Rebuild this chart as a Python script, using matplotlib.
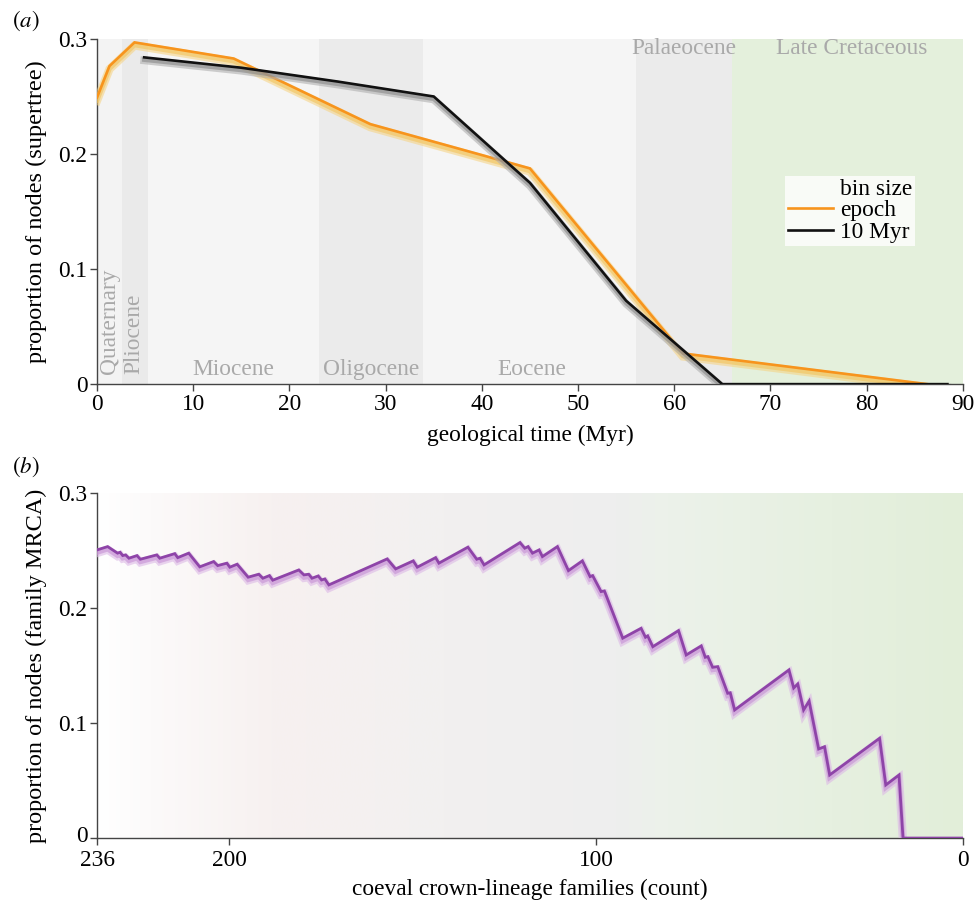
import matplotlib
matplotlib.use("Agg")
import matplotlib.pyplot as plt
import matplotlib.patheffects as pe
import matplotlib.transforms as mtransforms
from matplotlib.colors import LinearSegmentedColormap
from matplotlib.lines import Line2D
from matplotlib.ticker import FuncFormatter
import numpy as np

plt.rcParams['font.family'] = ['Liberation Serif', 'DejaVu Serif']
plt.rcParams['mathtext.fontset'] = 'stix'

# ---------------- data: panel (a) ----------------
epoch_names = ["Quaternary", "Pliocene", "Miocene", "Oligocene", "Eocene", "Palaeocene", "Late Cretaceous"]
epoch_bounds = [0, 2.58, 5.33, 23.03, 33.9, 56.0, 66.0, 90]
epoch_colors = ["#f3f3f3", "#eaeaea", "#f5f5f5", "#ebebeb", "#f5f5f5", "#ebebeb", "#e4f0dc"]

epoch_x = [0, 1.3, 3.9, 14.2, 28.4, 45.0, 60.9, 86.3]
epoch_y = [0.249, 0.2765, 0.297, 0.283, 0.226, 0.1875, 0.0267, 0.0]

bin_x = [4.9, 15, 25, 35, 45, 55, 65, 75, 85, 88.4]
bin_y = [0.284, 0.275, 0.263, 0.250, 0.175, 0.0725, 0.0, 0.0, 0.0, 0.0]

top_xticks = [0, 10, 20, 30, 40, 50, 60, 70, 80, 90]
yticks = [0, 0.1, 0.2, 0.3]

# ---------------- data: panel (b) ----------------
fam_count = [236, 233.1, 230.4, 229.7, 229.0, 228.2, 227.3, 225.1, 224.2, 219.7,
             218.9, 214.8, 214.0, 211.0, 208.0, 204.2, 203.1, 200.6, 199.8, 197.8,
             194.8, 191.9, 190.8, 189.0, 188.1, 181.0, 179.6, 178.3, 177.4, 175.7,
             174.8, 173.9, 172.8, 156.9, 154.6, 149.8, 148.7, 143.7, 142.8, 134.9,
             132.5, 131.6, 130.5, 120.7, 119.4, 118.5, 117.3, 115.5, 114.6, 110.5,
             107.5, 103.7, 101.6, 100.9, 98.6, 97.7, 92.7, 87.7, 86.5, 85.9,
             84.5, 77.5, 75.4, 71.3, 70.2, 69.5, 68.2, 66.8, 64.1, 63.4,
             62.2, 47.4, 46.1, 45.0, 43.4, 41.9, 39.3, 37.7, 36.3, 22.7,
             21.0, 17.4, 16.3, 0]
fam_prop = [0.2504, 0.2533, 0.2476, 0.2484, 0.2455, 0.2461, 0.2432, 0.2455, 0.2423, 0.2461,
            0.2432, 0.2472, 0.2437, 0.2476, 0.2357, 0.2403, 0.2368, 0.2389, 0.2354, 0.2380,
            0.2267, 0.2293, 0.2258, 0.2281, 0.2241, 0.2330, 0.2287, 0.2293, 0.2258, 0.2278,
            0.2243, 0.2252, 0.2200, 0.2426, 0.2339, 0.2409, 0.2354, 0.2437, 0.2389, 0.2528,
            0.2423, 0.2432, 0.2374, 0.2568, 0.2519, 0.2533, 0.2476, 0.2504, 0.2446, 0.2533,
            0.2324, 0.2409, 0.2272, 0.2281, 0.2142, 0.2148, 0.1737, 0.1823, 0.1745, 0.1757,
            0.1663, 0.1803, 0.1591, 0.1670, 0.1571, 0.1577, 0.1484, 0.1490, 0.1258, 0.1263,
            0.1113, 0.1461, 0.1304, 0.1339, 0.1113, 0.1190, 0.0774, 0.0794, 0.0548, 0.0867,
            0.0461, 0.0548, 0.0, 0.0]
bottom_xticks = [236, 200, 100, 0]

# ---------------- figure ----------------
fig = plt.figure(figsize=(9.75, 9.06), dpi=100)
ax1 = fig.add_axes([0.0995, 0.576, 0.888, 0.381])
ax2 = fig.add_axes([0.0995, 0.075, 0.888, 0.381])

label_col = "#a9a9a9"
fs = 16.8

def style_axes(ax):
    for s in ["top", "right"]:
        ax.spines[s].set_visible(False)
    for s in ["left", "bottom"]:
        ax.spines[s].set_color("#444444")
        ax.spines[s].set_linewidth(1.0)
    ax.tick_params(direction="out", length=5, width=1.0, color="#444444",
                   labelsize=fs, pad=2)
    ax.set_ylim(0, 0.3)
    ax.set_yticks(yticks)
    ax.yaxis.set_major_formatter(FuncFormatter(lambda v, p: "0" if v == 0 else f"{v:.1f}"))

# panel (a) backgrounds
for i in range(len(epoch_names)):
    ax1.axvspan(epoch_bounds[i], epoch_bounds[i + 1], color=epoch_colors[i], lw=0, zorder=0)

orange = "#f7941d"
pe_orange = [pe.Stroke(offset=(0, -2.2), linewidth=6, foreground="#f6d27e", alpha=0.55),
             pe.Stroke(offset=(0, -1.8), linewidth=3.5, foreground="#f3c35a", alpha=0.6),
             pe.Normal()]
pe_black = [pe.Stroke(offset=(0, -2.2), linewidth=5.5, foreground="#b0b0b0", alpha=0.6),
            pe.Stroke(offset=(0, -1.8), linewidth=3, foreground="#888888", alpha=0.6),
            pe.Normal()]
ax1.plot(epoch_x, epoch_y, color=orange, lw=1.9, zorder=3, path_effects=pe_orange,
         solid_joinstyle="miter")
ax1.plot(bin_x, bin_y, color="#111111", lw=1.9, zorder=4, path_effects=pe_black,
         solid_joinstyle="miter")

ax1.set_xlim(0, 90)
ax1.set_xticks(top_xticks)
style_axes(ax1)
ax1.set_xlabel("geological time (Myr)", fontsize=fs, labelpad=7)
ax1.set_ylabel("proportion of nodes (supertree)", fontsize=17.5, labelpad=8)

# epoch labels
lfs = 16.8
ax1.text(1.25, 0.009, epoch_names[0], rotation=90, ha="center", va="bottom", color=label_col, fontsize=lfs)
ax1.text(3.8, 0.009, epoch_names[1], rotation=90, ha="center", va="bottom", color=label_col, fontsize=lfs)
ax1.text(14.2, 0.008, epoch_names[2], ha="center", va="baseline", color=label_col, fontsize=lfs)
ax1.text(28.5, 0.008, epoch_names[3], ha="center", va="baseline", color=label_col, fontsize=lfs)
ax1.text(45.2, 0.008, epoch_names[4], ha="center", va="baseline", color=label_col, fontsize=lfs)
ax1.text(61.0, 0.301, epoch_names[5], ha="center", va="top", color=label_col, fontsize=lfs)
ax1.text(78.4, 0.301, epoch_names[6], ha="center", va="top", color=label_col, fontsize=lfs)

handles = [Line2D([], [], color="none"),
           Line2D([], [], color=orange, lw=1.9),
           Line2D([], [], color="#111111", lw=1.9)]
leg = ax1.legend(handles, ["bin size", "epoch", "10 Myr"], loc="upper left",
                 bbox_to_anchor=(0.7945, 0.603), frameon=True, fontsize=fs,
                 handlelength=1.95, handletextpad=0.28, borderpad=0.12,
                 labelspacing=0.0, borderaxespad=0, fancybox=False)
leg.get_frame().set_facecolor("white")
leg.get_frame().set_alpha(0.8)
leg.get_frame().set_linewidth(0)

# panel (b) background gradient
cmap = LinearSegmentedColormap.from_list(
    "bg", [(0.0, "#ffffff"), (0.06, "#fcfafa"), (0.2, "#f7f1f0"), (0.4, "#f2f0f0"),
           (0.60, "#eeeeee"), (0.66, "#ecf2ea"), (0.85, "#e6f0e0"), (1.0, "#e2eed9")])
grad = np.linspace(0, 1, 512).reshape(1, -1)
ax2.imshow(grad, cmap=cmap, extent=(236, 0, 0, 0.3), aspect="auto", zorder=0,
           interpolation="bicubic")

purple = "#8e44a8"
pe_purple = [pe.Stroke(offset=(0, -2.2), linewidth=6, foreground="#dcb8e6", alpha=0.6),
             pe.Stroke(offset=(0, -1.8), linewidth=3.5, foreground="#c58fd4", alpha=0.6),
             pe.Normal()]
ax2.plot(fam_count, fam_prop, color=purple, lw=2.0, zorder=3, path_effects=pe_purple,
         solid_joinstyle="miter")
ax2.set_xlim(236, 0)
ax2.set_xticks(bottom_xticks)
style_axes(ax2)
ax2.tick_params(axis="x", pad=3.5)
ax2.set_xlabel("coeval crown-lineage families (count)", fontsize=fs, labelpad=5.5)
ax2.set_ylabel("proportion of nodes (family MRCA)", fontsize=17.5, labelpad=8)

# nudge the bottom "0" y tick label slightly up so it does not touch "236"
fig.canvas.draw()
up = mtransforms.ScaledTranslation(0, 4 / 100, fig.dpi_scale_trans)
for lab in ax2.get_yticklabels():
    if lab.get_text() == "0":
        lab.set_transform(lab.get_transform() + up)

fig.text(0.012, 0.977, r"$(a)$", fontsize=16.5, ha="left", va="center")
fig.text(0.012, 0.485, r"$(b)$", fontsize=16.5, ha="left", va="center")

fig.savefig("out.png", dpi=100)
